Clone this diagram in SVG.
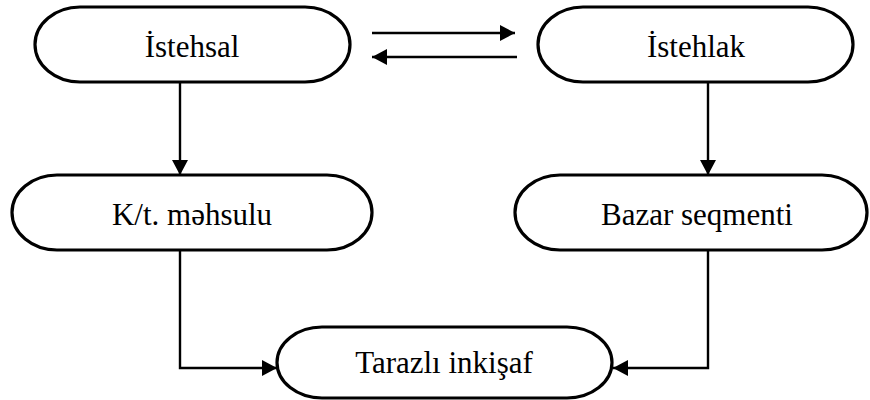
<svg xmlns="http://www.w3.org/2000/svg" width="870" height="400" viewBox="0 0 870 400">
  <style>
    .node rect { fill: #ffffff; stroke: #000000; stroke-width: 3.2; }
    .label { font-family: "Liberation Serif", "DejaVu Serif", serif; font-size: 31px; fill: #000000; text-anchor: middle; }
    .edge { fill: none; stroke: #000000; stroke-width: 2.4; }
  </style>
  <defs>
    <marker id="arrow" viewBox="0 0 10 10" refX="10" refY="5" markerWidth="15" markerHeight="16" markerUnits="userSpaceOnUse" orient="auto" preserveAspectRatio="none">
      <path d="M0,0 L10,5 L0,10 Z" fill="#000000"/>
    </marker>
  </defs>

  <g id="connectors">
    <path class="edge" d="M372,33 H515" marker-end="url(#arrow)"/>
    <path class="edge" d="M517,57 H372" marker-end="url(#arrow)"/>
    <path class="edge" d="M180,82 V175" marker-end="url(#arrow)"/>
    <path class="edge" d="M708,82 V175" marker-end="url(#arrow)"/>
    <path class="edge" d="M180,250 V368 H277" marker-end="url(#arrow)"/>
    <path class="edge" d="M708,250 V368 H613" marker-end="url(#arrow)"/>
  </g>

  <g id="istehsal" class="node">
    <rect x="35" y="7" width="315" height="75" rx="45" ry="37.5"/>
    <text class="label" x="192" y="57">İstehsal</text>
  </g>

  <g id="istehlak" class="node">
    <rect x="538" y="7" width="315" height="75" rx="45" ry="37.5"/>
    <text class="label" x="696" y="57">İstehlak</text>
  </g>

  <g id="kt-mehsulu" class="node">
    <rect x="12" y="175" width="360" height="75" rx="45" ry="37.5"/>
    <text class="label" x="192" y="225">K/t. məhsulu</text>
  </g>

  <g id="bazar-seqmenti" class="node">
    <rect x="515" y="175" width="352" height="75" rx="45" ry="37.5"/>
    <text class="label" x="697" y="225">Bazar seqmenti</text>
  </g>

  <g id="tarazli-inkisaf" class="node">
    <rect x="277" y="327" width="335" height="71" rx="45" ry="35.5"/>
    <text class="label" x="444" y="373">Tarazlı inkişaf</text>
  </g>
</svg>
